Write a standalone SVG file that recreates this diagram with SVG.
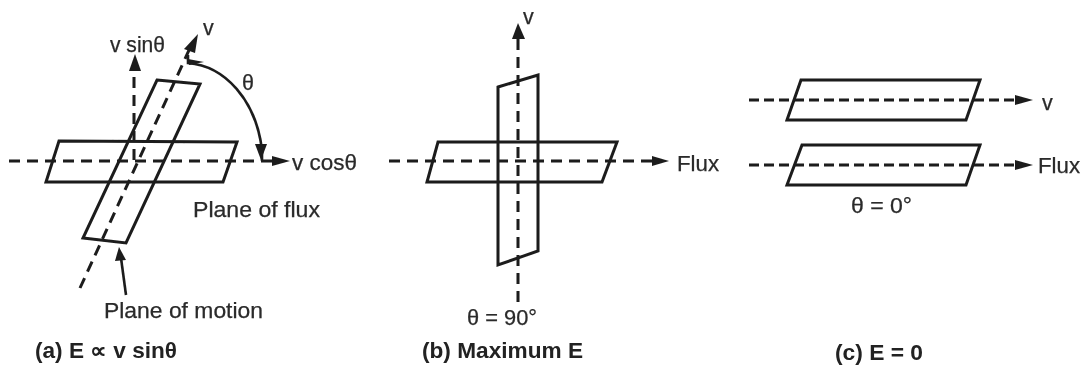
<svg xmlns="http://www.w3.org/2000/svg" width="1083" height="367" viewBox="0 0 1083 367">
<style>
.p{fill:none;stroke:#1c1c1c;stroke-width:3;stroke-linejoin:miter}
.d{fill:none;stroke:#1c1c1c;stroke-width:3;stroke-dasharray:11 7}
.c{stroke-dasharray:10 5}
.s{fill:none;stroke:#1c1c1c;stroke-width:2.6}
.h{fill:#1c1c1c;stroke:none}
text{font-family:"Liberation Sans",Arial,sans-serif;font-size:21.5px;fill:#2a2a2a;stroke:#2a2a2a;stroke-width:.25}
.b{font-weight:bold;fill:#222;stroke:none}
</style>
<defs><filter id="blur" x="0" y="0" width="1" height="1" filterUnits="objectBoundingBox"><feGaussianBlur stdDeviation="0.55"/></filter></defs>
<rect width="1083" height="367" fill="#fff"/>
<g filter="url(#blur)">
<g id="panel-a-planes">
<polygon id="a-flux-plane" class="p" points="59,141 237,142 223,182 46,182"/>
<polygon id="a-motion-plane" class="p" points="157,80 200,84 126,243 83,238"/>
</g>
<g id="panel-b-planes">
<polygon id="b-flux-plane" class="p" points="438,142 617,142 602,182 427,182"/>
<polygon id="b-motion-plane" class="p" points="498,87 538,75 538,251 498,265"/>
</g>
<g id="panel-c-planes">
<polygon id="c-v-plane" class="p" points="801,80 980,80 966,120 787,120"/>
<polygon id="c-flux-plane" class="p" points="802,145 980,145 966,185 787,185"/>
</g>
<g id="connectors">
<line class="d" x1="9" y1="161" x2="272" y2="161"/>
<polygon class="h" points="272,156 290,161 272,166"/>
<line class="d" x1="134" y1="160" x2="134" y2="70"/>
<polygon class="h" points="135,54 129,71 141,71"/>
<line class="d" x1="80" y1="288" x2="190" y2="48"/>
<polygon class="h" points="198,34 184,49 195,53"/>
<path class="s" d="M188,55 V63 C225,66 256,100 262,150 V161"/>
<polygon class="h" points="188,59 204,62 189,65"/>
<polygon class="h" points="261,160 255,144 267,144"/>
<line class="s" x1="126" y1="295" x2="121" y2="258"/>
<polygon class="h" points="119,247 115,261 126,260"/>
<line class="d" x1="389" y1="161" x2="652" y2="161"/>
<polygon class="h" points="652,156 669,161 652,166"/>
<line class="d" x1="518" y1="302" x2="518" y2="38"/>
<polygon class="h" points="518,23 512,39 525,39"/>
<line class="d c" x1="749" y1="100" x2="1015" y2="100"/>
<polygon class="h" points="1015,95 1033,100 1015,105"/>
<line class="d c" x1="749" y1="165" x2="1015" y2="165"/>
<polygon class="h" points="1015,160 1033,165 1015,170"/>
</g>
<g id="labels">
<text x="110" y="52" textLength="55" lengthAdjust="spacingAndGlyphs">v sinθ</text>
<text x="203" y="35">v</text>
<text x="242" y="90">θ</text>
<text x="292" y="170" textLength="65" lengthAdjust="spacingAndGlyphs">v cosθ</text>
<text x="193" y="217" textLength="127" lengthAdjust="spacingAndGlyphs">Plane of flux</text>
<text x="104" y="318" textLength="159" lengthAdjust="spacingAndGlyphs">Plane of motion</text>
<text class="b" x="35" y="358" textLength="142" lengthAdjust="spacingAndGlyphs">(a) E ∝ v sinθ</text>
<text x="523" y="24">v</text>
<text x="677" y="171" textLength="42" lengthAdjust="spacingAndGlyphs">Flux</text>
<text x="467" y="325" textLength="70" lengthAdjust="spacingAndGlyphs">θ = 90°</text>
<text class="b" x="422" y="358" textLength="161" lengthAdjust="spacingAndGlyphs">(b) Maximum E</text>
<text x="1042" y="110">v</text>
<text x="1038" y="173" textLength="42" lengthAdjust="spacingAndGlyphs">Flux</text>
<text x="851" y="213" textLength="61" lengthAdjust="spacingAndGlyphs">θ = 0°</text>
<text class="b" x="835" y="360" textLength="88" lengthAdjust="spacingAndGlyphs">(c) E = 0</text>
</g>
</g>
</svg>
